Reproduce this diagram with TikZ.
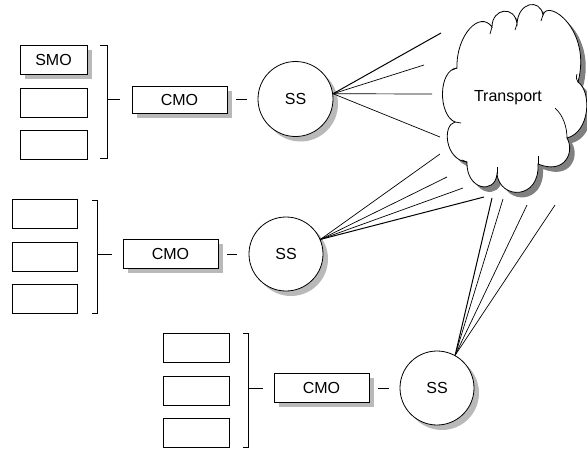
\documentclass[tikz,border=0pt]{standalone}
\usepackage{fontspec}
\setmainfont{Liberation Sans}

\begin{document}
\begin{tikzpicture}[x=1pt,y=-1pt,
  every node/.style={font=\fontsize{16}{19}\selectfont},
  outline/.style={draw=black, line width=0.8pt},
  modbox/.style={outline, fill=white, rectangle, inner sep=0pt, minimum height=29pt},
  station/.style={outline, fill=white, circle, inner sep=0pt, minimum size=75pt},
  link/.style={line width=0.7pt},
  bracketline/.style={line width=0.8pt},
  boxshadow/.style={fill=shadowgray, shift={(5,5)}}
]
\definecolor{shadowgray}{RGB}{185,185,185}
\definecolor{cloudshadow}{RGB}{128,128,128}
\useasboundingbox (0,0) rectangle (587,448);

% ---------- drop shadows (drawn first, offset down and right) ----------
\fill[boxshadow] (20,45) rectangle (87,74);      % SMO
\fill[boxshadow] (132,86) rectangle (227,113);   % CMO, group 1
\fill[boxshadow] (123,239) rectangle (218,268);  % CMO, group 2
\fill[boxshadow] (274,373) rectangle (369,402);  % CMO, group 3
\fill[boxshadow] (295.5,99) circle[radius=37.5]; % SS, group 1
\fill[boxshadow] (286,254) circle[radius=37];    % SS, group 2
\fill[boxshadow] (437,388) circle[radius=37];    % SS, group 3

% ---------- cloud ----------
\def\cloudpath{(457,68) .. controls (456,35) and (480,10) .. (492,27)
  .. controls (492,8) and (515,5) .. (517,24)
  .. controls (518,2) and (540,-2) .. (543,15)
  .. controls (548,-2) and (592,30) .. (578,82)
  .. controls (592,92) and (590,132) .. (567,138)
  .. controls (575,152) and (565,175) .. (538,164)
  .. controls (540,200) and (500,200) .. (497,174)
  .. controls (495,195) and (466,190) .. (467,162)
  .. controls (445,160) and (442,125) .. (455,122)
  .. controls (438,115) and (438,70) .. (457,68) -- cycle}
\fill[cloudshadow, shift={(5,5)}] \cloudpath;
\filldraw[fill=white, draw=black, line width=0.8pt] \cloudpath;
% inner hooks at the cusps
\draw[line width=0.7pt] (492,27) -- (490,34);
\draw[line width=0.7pt] (517,24) -- (515,30);
\draw[line width=0.7pt] (543,15) -- (541,21);
\draw[line width=0.7pt] (578,82) .. controls (576,78) .. (577,74);
\draw[line width=0.7pt] (555,108) .. controls (563,115) and (567,127) .. (567,138);
\draw[line width=0.7pt] (538,164) -- (538,156);
\draw[line width=0.7pt] (497,174) -- (497,167);
\draw[line width=0.7pt] (467,162) -- (462,160);
\draw[line width=0.7pt] (455,122) -- (461,123);
\draw[line width=0.7pt] (457,68) -- (452,70);
\node (transport) at (508,98) {Transport};

% ---------- group 1 ----------
\node[modbox, minimum width=67pt] (smo) at (53.5,59.5) {SMO};
\node[modbox, minimum width=67pt] (m12) at (53.5,102.5) {};
\node[modbox, minimum width=67pt] (m13) at (53.5,145) {};
\coordinate (k1t) at (107,45);
\coordinate (k1b) at (107,158);
\coordinate (k1m) at (107,99);
\coordinate (k1s) at (120,99);
\draw[bracketline] (100,45) -- (k1t) -- (k1b) -- (100,158);
\draw[bracketline] (k1m) -- (k1s);
\node[modbox, minimum width=95pt, minimum height=27pt] (cmo1) at (179.5,99.5) {CMO};
\coordinate (d1a) at (236,99);
\coordinate (d1b) at (247,99);
\draw[bracketline] (d1a) -- (d1b);
\node[station] (ss1) at (295.5,99) {SS};

% ---------- group 2 ----------
\node[modbox, minimum width=65pt] (m21) at (44.5,213.5) {};
\node[modbox, minimum width=65pt] (m22) at (44.5,256.5) {};
\node[modbox, minimum width=65pt] (m23) at (44.5,299) {};
\coordinate (k2t) at (97,200);
\coordinate (k2b) at (97,313);
\coordinate (k2m) at (97,254);
\coordinate (k2s) at (112,254);
\draw[bracketline] (92,200) -- (k2t) -- (k2b) -- (92,313);
\draw[bracketline] (k2m) -- (k2s);
\node[modbox, minimum width=95pt] (cmo2) at (170.5,253.5) {CMO};
\coordinate (d2a) at (227,254);
\coordinate (d2b) at (237,254);
\draw[bracketline] (d2a) -- (d2b);
\node[station, minimum size=74pt] (ss2) at (286,254) {SS};

% ---------- group 3 ----------
\node[modbox, minimum width=66pt] (m31) at (196,347.5) {};
\node[modbox, minimum width=66pt] (m32) at (196,390.5) {};
\node[modbox, minimum width=66pt] (m33) at (196,433) {};
\coordinate (k3t) at (248,333);
\coordinate (k3b) at (248,447);
\coordinate (k3m) at (248,388);
\coordinate (k3s) at (263,388);
\draw[bracketline] (243,333) -- (k3t) -- (k3b) -- (243,447);
\draw[bracketline] (k3m) -- (k3s);
\node[modbox, minimum width=95pt] (cmo3) at (321.5,387.5) {CMO};
\coordinate (d3a) at (378,388);
\coordinate (d3b) at (389,388);
\draw[bracketline] (d3a) -- (d3b);
\node[station, minimum size=74pt] (ss3) at (437,388) {SS};

% ---------- links towards the transport cloud ----------
\coordinate (t11) at (441,33);
\coordinate (t12) at (424,65);
\coordinate (t13) at (432,94);
\coordinate (t14) at (440,137);
\draw[link, line width=1pt] (ss1.8) -- (t11);
\draw[link] (ss1.8) -- (t12);
\draw[link] (ss1.8) -- (t13);
\draw[link] (ss1.8) -- (t14);

\coordinate (t21) at (440,154);
\coordinate (t22) at (447,177);
\coordinate (t23) at (463,188);
\coordinate (t24) at (484,197);
\draw[link] (ss2.23) -- (t21);
\draw[link] (ss2.23) -- (t22);
\draw[link] (ss2.23) -- (t23);
\draw[link, line width=1pt] (ss2.23) -- (t24);

\coordinate (t31) at (492,198);
\coordinate (t32) at (503,199);
\coordinate (t33) at (527,205);
\coordinate (t34) at (555,205);
\draw[link, line width=1pt] (ss3.61) -- (t31);
\draw[link] (ss3.61) -- (t32);
\draw[link] (ss3.61) -- (t33);
\draw[link] (ss3.61) -- (t34);
\end{tikzpicture}
\end{document}
